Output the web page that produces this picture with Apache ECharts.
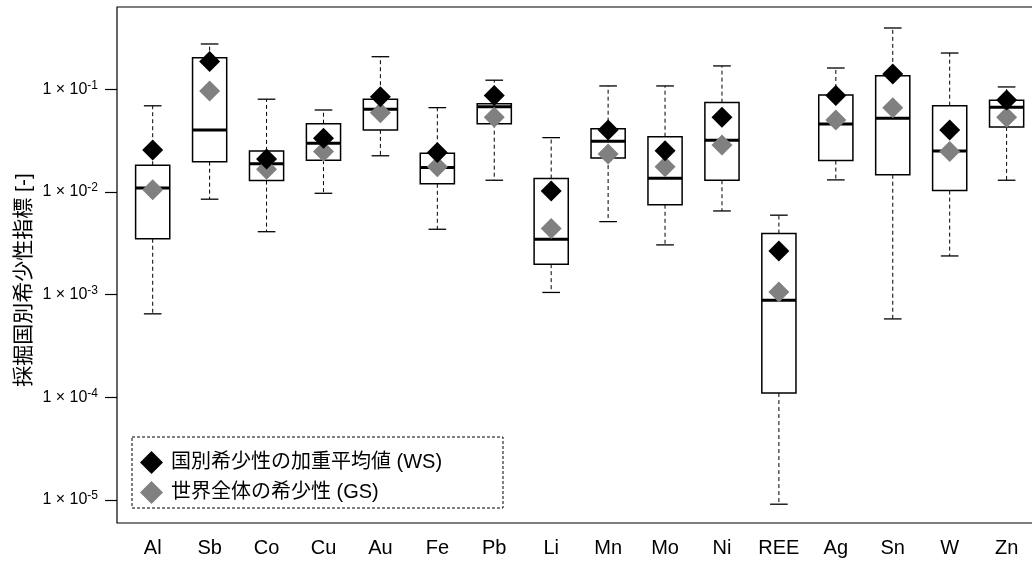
<!DOCTYPE html>
<html><head><meta charset="utf-8">
<script src="https://cdn.jsdelivr.net/npm/echarts@6/dist/echarts.min.js"></script>
<style>html,body{margin:0;padding:0;background:#fff}#c{width:1032px;height:562px}</style>
</head><body><div id="c"></div>
<script>
const categories = ['Al','Sb','Co','Cu','Au','Fe','Pb','Li','Mn','Mo','Ni','REE','Ag','Sn','W','Zn'];
const whiskerLow  = [0.00065, 0.0085, 0.0041, 0.0097, 0.0225, 0.00433, 0.0130, 0.00105, 0.00514, 0.00305, 0.00653, 0.0000091, 0.0131, 0.00058, 0.00238, 0.0130];
const q1          = [0.0035, 0.0197, 0.0129, 0.0204, 0.0402, 0.0120, 0.0462, 0.00198, 0.0214, 0.0075, 0.0130, 0.000110, 0.0202, 0.0147, 0.0103, 0.0430];
const median      = [0.0109, 0.0402, 0.0188, 0.0298, 0.0638, 0.01725, 0.0677, 0.00346, 0.0312, 0.0136, 0.0319, 0.00088, 0.0459, 0.0522, 0.0251, 0.0668];
const q3          = [0.0182, 0.203, 0.0251, 0.0462, 0.080, 0.0238, 0.0724, 0.0135, 0.0413, 0.0345, 0.0741, 0.00393, 0.088, 0.135, 0.0692, 0.0782];
const whiskerHigh = [0.069, 0.276, 0.080, 0.0628, 0.2075, 0.0662, 0.1225, 0.0338, 0.1077, 0.1077, 0.1687, 0.00594, 0.161, 0.395, 0.2253, 0.1053];
const weightedScarcity = [0.0256, 0.186, 0.0209, 0.0333, 0.0847, 0.0242, 0.0867, 0.0102, 0.0402, 0.0252, 0.0533, 0.00266, 0.0867, 0.141, 0.0402, 0.0787];
const globalScarcity   = [0.0105, 0.096, 0.0166, 0.0247, 0.0591, 0.0176, 0.0533, 0.0044, 0.0234, 0.0176, 0.0287, 0.00106, 0.0502, 0.0662, 0.0247, 0.0533];
const yTicks = [1e-5, 1e-4, 1e-3, 1e-2, 1e-1];
const legendNames = ['国別希少性の加重平均値 (WS)', '世界全体の希少性 (GS)'];
const yTitle = '採掘国別希少性指標 [-]';

const FONT = "'Liberation Sans', 'Noto Sans CJK JP', sans-serif";
const positions = categories.map((c, i) => i + 1);
const boxData = categories.map((c, i) => [positions[i], whiskerLow[i], q1[i], median[i], q3[i], whiskerHigh[i]]);
const wsData = categories.map((c, i) => [positions[i], weightedScarcity[i]]);
const gsData = categories.map((c, i) => [positions[i], globalScarcity[i]]);

function renderBox(params, api) {
  const x = api.value(0);
  const pLo = api.coord([x, api.value(1)]);
  const pQ1 = api.coord([x, api.value(2)]);
  const pMed = api.coord([x, api.value(3)]);
  const pQ3 = api.coord([x, api.value(4)]);
  const pHi = api.coord([x, api.value(5)]);
  const bw = api.size([0.6, 1])[0];
  const cw = api.size([0.31, 1])[0];
  const cx = pMed[0];
  const dash = {stroke: '#000', lineWidth: 1, lineDash: [4, 3]};
  const solid = {stroke: '#000', lineWidth: 1.3};
  return {
    type: 'group',
    children: [
      {type: 'line', shape: {x1: cx, y1: pQ3[1], x2: cx, y2: pHi[1]}, style: dash},
      {type: 'line', shape: {x1: cx, y1: pQ1[1], x2: cx, y2: pLo[1]}, style: dash},
      {type: 'line', shape: {x1: cx - cw / 2, y1: pHi[1], x2: cx + cw / 2, y2: pHi[1]}, style: solid},
      {type: 'line', shape: {x1: cx - cw / 2, y1: pLo[1], x2: cx + cw / 2, y2: pLo[1]}, style: solid},
      {type: 'rect', shape: {x: cx - bw / 2, y: pQ3[1], width: bw, height: pQ1[1] - pQ3[1]}, style: {fill: '#fff', stroke: '#000', lineWidth: 1.5}},
      {type: 'line', shape: {x1: cx - bw / 2, y1: pMed[1], x2: cx + bw / 2, y2: pMed[1]}, style: {stroke: '#000', lineWidth: 3}}
    ]
  };
}

const chart = echarts.init(document.getElementById('c'), null, {renderer: 'canvas'});
chart.setOption({
  animation: false,
  backgroundColor: '#fff',
  textStyle: {fontFamily: FONT},
  grid: {left: 117, top: 7, width: 925.3, height: 516, outerBoundsMode: 'none', containLabel: false, show: true, borderColor: '#000', borderWidth: 1.2, backgroundColor: 'transparent'},
  xAxis: {
    type: 'value', min: 0.373, max: 16.627,
    axisLine: {show: false}, axisTick: {show: false}, splitLine: {show: false},
    axisLabel: {
      customValues: positions, margin: 15, fontSize: 20, color: '#000', fontFamily: FONT,
      formatter: v => categories[Math.round(v) - 1] || ''
    }
  },
  yAxis: {
    type: 'log', logBase: 10, min: Math.pow(10, -5.224), max: Math.pow(10, -0.199),
    axisLine: {show: false}, splitLine: {show: false},
    axisTick: {show: true, length: 12, customValues: yTicks, lineStyle: {color: '#000', width: 1.2}},
    axisLabel: {
      customValues: yTicks, margin: 19, color: '#000', fontFamily: FONT,
      formatter: v => '{b|1 × 10}{s|' + Math.round(Math.log10(v)) + '}',
      rich: {
        b: {fontSize: 16, fontFamily: FONT, color: '#000', lineHeight: 20},
        s: {fontSize: 12, fontFamily: FONT, color: '#000', verticalAlign: 'top', lineHeight: 12}
      }
    }
  },
  legend: {
    orient: 'vertical', left: 140, top: 451, padding: 0,
    itemWidth: 23, itemHeight: 23, itemGap: 7,
    textStyle: {fontSize: 20, color: '#000', fontFamily: FONT, padding: [0, 0, 0, 3]},
    data: [{name: legendNames[0], icon: 'diamond'}, {name: legendNames[1], icon: 'diamond'}]
  },
  graphic: [
    {type: 'rect', shape: {x: 132, y: 437, width: 371, height: 71}, style: {fill: 'none', stroke: '#000', lineWidth: 1, lineDash: [3, 2]}, z: 0},
    {type: 'text', x: 24, y: 280, rotation: Math.PI / 2, style: {text: yTitle, fontSize: 21, fontFamily: FONT, fill: '#000', align: 'center', verticalAlign: 'middle'}}
  ],
  series: [
    {type: 'custom', name: 'box', renderItem: renderBox, data: boxData, encode: {x: 0, y: [1, 2, 3, 4, 5]}, z: 2, silent: true},
    {type: 'scatter', name: legendNames[0], data: wsData, symbol: 'diamond', symbolSize: 21, itemStyle: {color: '#000', opacity: 1}, z: 4},
    {type: 'scatter', name: legendNames[1], data: gsData, symbol: 'diamond', symbolSize: 21, itemStyle: {color: '#808080', opacity: 1}, z: 3}
  ]
});
</script></body></html>
